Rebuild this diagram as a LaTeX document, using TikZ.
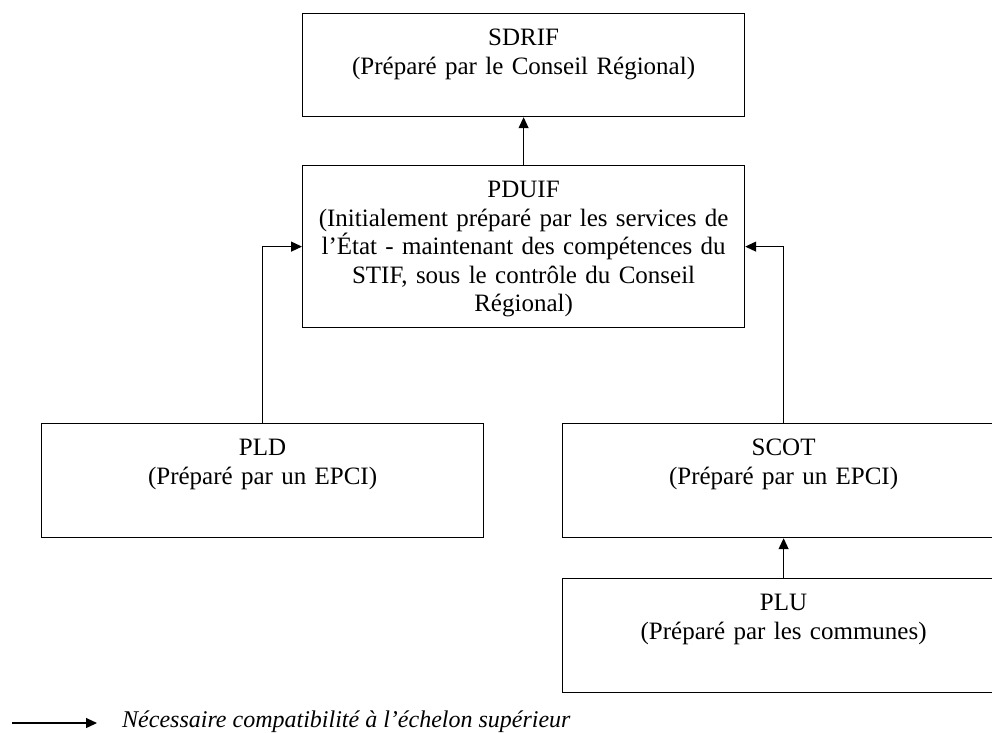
\documentclass[tikz,border=0pt]{standalone}
\usepackage{fontspec}
\setmainfont{Liberation Serif}
\usetikzlibrary{arrows.meta}
\begin{document}
\begin{tikzpicture}[x=1pt, y=-1pt,
        bloc/.style 2 args={draw, shape=rectangle, line width=1.2pt, anchor=north west, inner sep=0pt,
            align=center, font=\fontsize{25}{28.5}\selectfont, text height=32pt, text width=#1, text depth=#2},
        fleche/.style={-{Triangle[length=11pt, width=10pt]}, line width=1.2pt}]
    \def\largeur{442pt}
    \useasboundingbox (0,0) rectangle (992,732);
    \clip (0,0) rectangle (992,732);
    \fill[white] (0,0) rectangle (992,732);
    % les plans
    \node[bloc={\largeur}{71pt}] (SDRIF) at (302,13) {SDRIF\\(Préparé par le Conseil Régional)};
    \node[bloc={\largeur}{130pt}] (PDUIF) at (302,165) {PDUIF\\(Initialement préparé par les services de\\l’État - maintenant des compétences du\\STIF, sous le contrôle du Conseil\\Régional)};
    \node[bloc={\largeur}{82pt}] (PLD) at (41,423) {PLD\\(Préparé par un EPCI)};
    \node[bloc={\largeur}{82pt}] (SCOT) at (562,423) {SCOT\\(Préparé par un EPCI)};
    \node[bloc={\largeur}{82pt}] (PLU) at (562,578) {PLU\\(Préparé par les communes)};
    % compatibilite
    \draw[fleche] (PDUIF) -- (SDRIF);
    \draw[fleche] (PLD.north) |- (PDUIF.west);
    \draw[fleche] (SCOT.north) |- (PDUIF.east);
    \draw[fleche] (PLU) -- (SCOT);
    % legende
    \coordinate (legA) at (12,723);
    \coordinate (legB) at (97,723);
    \draw[fleche] (legA) -- (legB);
    \node[anchor=west, inner sep=0pt, font=\fontsize{24}{28}\selectfont\itshape] (legende) at (122,722) {Nécessaire compatibilité à l’échelon supérieur};
\end{tikzpicture}
\end{document}
